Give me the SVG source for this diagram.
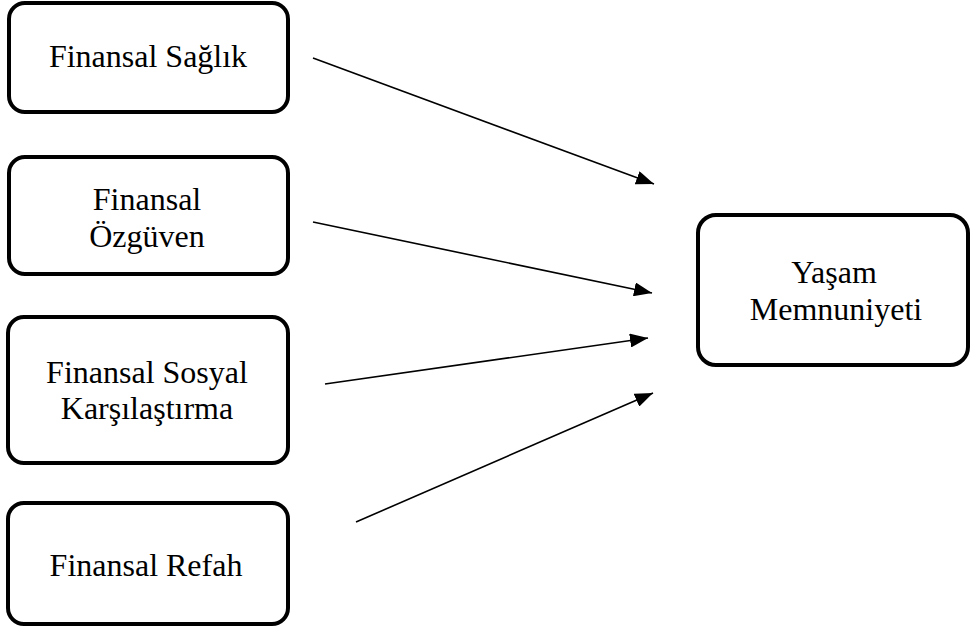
<svg xmlns="http://www.w3.org/2000/svg" width="970" height="629" viewBox="0 0 970 629">
<style>
.box{fill:#fff;stroke:#000;stroke-width:4}
.t{font-size:32px;fill:#000;text-anchor:middle}
.c{stroke:#000;stroke-width:1.6;fill:none}
</style>
<defs>
<marker id="ah" viewBox="0 0 18 14" refX="18" refY="7" markerWidth="18" markerHeight="14" markerUnits="userSpaceOnUse" orient="auto">
<path d="M0,0 L18,7 L0,14 z" fill="#000"/>
</marker>
</defs>
<rect width="970" height="629" fill="#fff"/>
<g font-family="'Liberation Serif', 'Times New Roman', Times, 'DejaVu Serif', serif">
<g id="n1"><rect class="box" x="9" y="3" width="279" height="109" rx="16"/><text class="t" x="148" y="67">Finansal Sağlık</text></g>
<g id="n2"><rect class="box" x="9" y="157" width="279" height="117" rx="16"/><text class="t" x="147" y="210">Finansal</text><text class="t" x="147" y="247">Özgüven</text></g>
<g id="n3"><rect class="box" x="8" y="317" width="280" height="146" rx="16"/><text class="t" x="147" y="383">Finansal Sosyal</text><text class="t" x="147" y="419">Karşılaştırma</text></g>
<g id="n4"><rect class="box" x="8" y="503" width="280" height="121" rx="16"/><text class="t" x="146" y="576">Finansal Refah</text></g>
<g id="n5"><rect class="box" x="698" y="215" width="270" height="150" rx="18"/><text class="t" x="834" y="283">Yaşam</text><text class="t" x="836" y="320">Memnuniyeti</text></g>
</g>
<g id="connectors">
<line class="c" x1="313" y1="58" x2="654" y2="184" marker-end="url(#ah)"/>
<line class="c" x1="313" y1="222" x2="652" y2="293" marker-end="url(#ah)"/>
<line class="c" x1="325" y1="384" x2="648" y2="338" marker-end="url(#ah)"/>
<line class="c" x1="356" y1="522" x2="653" y2="393" marker-end="url(#ah)"/>
</g>
</svg>
